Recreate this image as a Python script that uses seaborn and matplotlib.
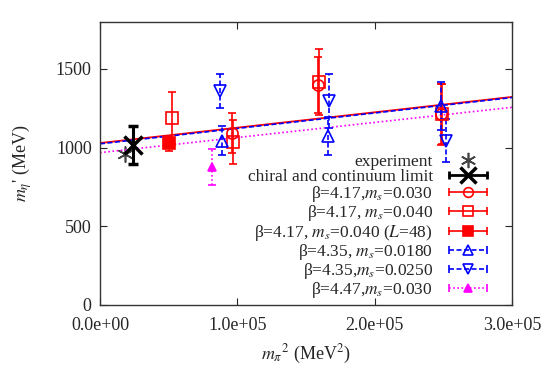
import numpy as np
import pandas as pd
import matplotlib
matplotlib.use("Agg")
import matplotlib.pyplot as plt
import seaborn as sns
from matplotlib.lines import Line2D
from matplotlib.legend_handler import HandlerLine2D, HandlerTuple

# data
exp_x = [18225]
exp_y = [958]

chiral_x = [23800]
chiral_y = [1018]
chiral_err = [120]

# beta=4.17, ms=0.030 (open circles)
b417_030_x = [95900, 158500, 248100]
b417_030_y = [1095, 1398, 1211]
b417_030_err = [127, 177, 196]

# beta=4.17, ms=0.040 (open squares)
b417_040_x = [52400, 97100, 159700, 248800]
b417_040_y = [1186, 1038, 1419, 1211]
b417_040_err = [165, 140, 210, 190]

# beta=4.17, ms=0.040, L=48 (filled square)
b417_L48_x = [50500]
b417_L48_y = [1027]
b417_L48_err = [48]

# beta=4.35, ms=0.0180 (up triangles)
b435_018_x = [88600, 165800, 248100]
b435_018_y = [1044, 1076, 1264]
b435_018_err = [93, 120, 150]

# beta=4.35, ms=0.0250 (down triangles)
b435_025_x = [87400, 167000, 251800]
b435_025_y = [1360, 1296, 1044]
b435_025_err = [106, 170, 135]

# beta=4.47, ms=0.030 (filled triangle)
b447_030_x = [81300]
b447_030_y = [879]
b447_030_err = [115]

# fit lines (end points)
fit_x = [0, 300000]
fit_red_y = [1029, 1322]
fit_blue_y = [1024, 1318]
fit_mag_y = [968, 1256]

sns.set_style("ticks")
plt.rcParams['font.family'] = ['Liberation Serif', 'DejaVu Serif']
plt.rcParams['mathtext.fontset'] = 'stix'

fig = plt.figure(figsize=(5.45, 3.82), dpi=100)
ax = fig.add_axes([0.1835, 0.2016, 0.9394 - 0.1835, 0.9432 - 0.2016])

fits = pd.DataFrame({
    'x': fit_x * 3,
    'y': fit_red_y + fit_blue_y + fit_mag_y,
    'fit': ['red'] * 2 + ['blue'] * 2 + ['mag'] * 2,
})
sns.lineplot(data=fits[fits.fit == 'red'], x='x', y='y', color='red', lw=1.3, ax=ax)
sns.lineplot(data=fits[fits.fit == 'blue'], x='x', y='y', color='blue', lw=1.2,
             linestyle=(0, (3, 1.5)), ax=ax)
sns.lineplot(data=fits[fits.fit == 'mag'], x='x', y='y', color='magenta', lw=1.2,
             linestyle=(0, (1, 1.5)), ax=ax)

red = '#ff0000'
blue = '#0000ff'
mag = '#ff00ff'


def eb(x, y, err, color, marker, fill, ls, ms=8, lw=1.2):
    fc = color if fill else 'none'
    _, caps, bars = ax.errorbar(x, y, yerr=err, fmt=marker, color=color, mfc=fc, mec=color,
                                ms=ms, mew=1.2, elinewidth=lw, capsize=3, capthick=lw)
    for b in bars:
        b.set_linestyle(ls)


eb(b417_030_x, b417_030_y, b417_030_err, red, 'o', False, '-')
eb(b417_040_x, b417_040_y, b417_040_err, red, 's', False, '-')
eb(b417_L48_x, b417_L48_y, b417_L48_err, red, 's', True, '-')
eb(b435_018_x, b435_018_y, b435_018_err, blue, '^', False, (0, (3, 1.5)))
eb(b435_025_x, b435_025_y, b435_025_err, blue, 'v', False, (0, (3, 1.5)))
eb(b447_030_x, b447_030_y, b447_030_err, mag, '^', True, (0, (1, 1.5)), ms=6)

ax.errorbar(chiral_x, chiral_y, yerr=chiral_err, fmt='x', color='black', ms=13, mew=2.5,
            elinewidth=2.2, capsize=3.5, capthick=2.2)
sns.scatterplot(x=exp_x, y=exp_y, marker=(6, 2, 0), s=120, color='#444444', linewidth=1.2, ax=ax)

ax.set_xlim(0, 300000)
ax.set_ylim(0, 1800)
ax.set_xticks([0, 100000, 200000, 300000])
ax.set_xticklabels(['0.0e+00', '1.0e+05', '2.0e+05', '3.0e+05'])
ax.set_yticks([0, 500, 1000, 1500])
ax.tick_params(direction='in', top=True, right=True, labelsize=13, length=5, width=0.8)
ax.tick_params(axis='x', pad=9)
ax.tick_params(axis='y', pad=6)
for s in ax.spines.values():
    s.set_linewidth(1.0)
    s.set_color('#333333')
ax.set_xlabel(r"$m_{\pi}{}^{2}$ (MeV$^{2}$)", fontsize=13, labelpad=6)
ax.set_ylabel(r"$m_{\eta}$' (MeV)", fontsize=13, labelpad=16)


# gnuplot-like legend entries: line with caps at both ends + marker in middle
def entry(color, marker, fill, ls, ms=7, mec=None, lw=1.2, mew=1.2):
    capline = Line2D([], [], color=color, ls=ls, lw=lw, marker='|', ms=6, mew=lw)
    mk = Line2D([], [], color=color, ls='none', marker=marker, ms=ms,
                mfc=(color if fill else 'none'), mec=mec or color, mew=mew)
    return (capline, mk)


handles = [
    (Line2D([], [], ls='none', marker=(6, 2, 0), ms=11, color='#444444', mew=1.2),),
    entry('black', 'x', False, '-', ms=11, lw=2, mew=2.5),
    entry(red, 'o', False, '-'),
    entry(red, 's', False, '-'),
    entry(red, 's', True, '-'),
    entry(blue, '^', False, (0, (3, 1.5))),
    entry(blue, 'v', False, (0, (3, 1.5))),
    entry(mag, '^', True, (0, (1, 1.5)), ms=6),
]
labels = [
    'experiment',
    'chiral and continuum limit',
    r'β=4.17,$m_s$=0.030',
    r'β=4.17, $m_s$=0.040',
    r'β=4.17, $m_s$=0.040 ($L$=48)',
    r'β=4.35, $m_s$=0.0180',
    r'β=4.35,$m_s$=0.0250',
    r'β=4.47,$m_s$=0.030',
]
hmap = {}
for h in handles:
    for i, sub in enumerate(h):
        hmap[sub] = HandlerLine2D(numpoints=2 if (len(h) == 2 and i == 0) else 1)
hmap[tuple] = HandlerTuple(ndivide=1, pad=0)

leg = ax.legend(handles, labels, handler_map=hmap, loc='lower right',
                bbox_to_anchor=(492 / 545, 82 / 382), bbox_transform=fig.transFigure,
                frameon=False, markerfirst=False, fontsize=12.5, handlelength=2.8,
                handletextpad=0.6, labelspacing=-0.05, borderpad=0, borderaxespad=0)
for t in leg.get_texts():
    t.set_ha('right')

fig.savefig('out.png', dpi=100)
